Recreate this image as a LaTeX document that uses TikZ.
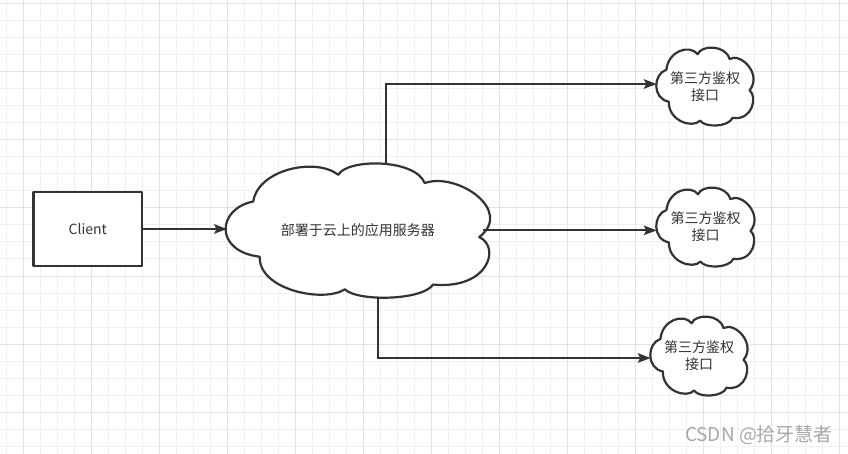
\documentclass[tikz,border=0pt]{standalone}
\usepackage{fontspec}
\setmainfont{Noto Sans CJK SC}
\usetikzlibrary{arrows.meta}
\definecolor{ink}{HTML}{333333}
\definecolor{gridminor}{HTML}{F0F0F0}
\definecolor{gridmajor}{HTML}{E2E2E2}
\definecolor{wm}{HTML}{A8A8A8}
\pgfdeclarelayer{gridlayer}
\pgfdeclarelayer{background}
\pgfsetlayers{gridlayer,background,main}
\newcommand\cloudoutline[3]{%
  \begin{scope}[shift={(#1.north west)}, x=#2pt, y=-#3pt]
    \draw[shapeline]
      (0.10,0.284) .. controls (0.12,0.04) and (0.34,-0.05) .. (0.426,0.083)
      .. controls (0.46,-0.04) and (0.72,-0.04) .. (0.757,0.145)
      .. controls (0.88,0.06) and (1.1,0.35) .. (0.966,0.552)
      .. controls (1.05,0.63) and (1.0,0.95) .. (0.789,0.91)
      .. controls (0.75,1.03) and (0.5,1.04) .. (0.451,0.946)
      .. controls (0.37,1.05) and (0.12,0.95) .. (0.125,0.70)
      .. controls (-0.05,0.66) and (-0.04,0.34) .. cycle;
  \end{scope}}
\begin{document}
\begin{tikzpicture}[x=1pt,y=1pt,
  shapeline/.style={draw=ink, line width=2.2pt, fill=white, line join=round},
  conn/.style={draw=ink, line width=2pt, -{Stealth[length=13pt,width=9.5pt,inset=2.5pt]}},
  lbl/.style={text=ink, font=\fontsize{14}{17}\selectfont, align=center},
  cloudbox/.style 2 args={lbl, inner sep=0pt, minimum width=#1pt, minimum height=#2pt},
  gminor/.style={draw=gridminor, line width=1pt},
  gmajor/.style={draw=gridmajor, line width=1pt},
  wmark/.style={text=wm, font=\fontsize{19}{21}\selectfont}]
\useasboundingbox (0,0) rectangle (848,-454);
\begin{pgfonlayer}{gridlayer}
  \fill[white] (0,0) rectangle (848,-454);
  \foreach \i in {0,...,49} \draw[gminor] ({6.3+17*\i},0) -- ++(0,-454);
  \foreach \j in {0,...,26} \draw[gminor] (0,{-4-17*\j}) -- ++(848,0);
  \foreach \i in {0,...,12} \draw[gmajor] ({23.3+68*\i},0) -- ++(0,-454);
  \foreach \j in {0,...,6} \draw[gmajor] (0,{-4-68*\j}) -- ++(848,0);
\end{pgfonlayer}

\node[shapeline, lbl, inner sep=0pt, minimum width=108.8pt, minimum height=74.4pt] (client) at (87.8,-229) {Client};

\node[cloudbox={261}{132.7}] (srv) at (357.8,-230.35) {部署于云上的应用服务器};
\node[cloudbox={96}{77}] (auth1) at (705,-86.5) {第三方鉴权\\接口};
\node[cloudbox={97}{78}] (auth2) at (705.5,-227) {第三方鉴权\\接口};
\node[cloudbox={96}{78}] (auth3) at (699,-356) {第三方鉴权\\接口};

\begin{pgfonlayer}{background}
  \cloudoutline{srv}{261}{132.7}
  \cloudoutline{auth1}{96}{77}
  \cloudoutline{auth2}{97}{78}
  \cloudoutline{auth3}{96}{78}
\end{pgfonlayer}

\draw[conn] (client.east) -- (client.east -| srv.west);
\draw[conn] ([xshift=28.5pt]srv.north) |- ([yshift=2.5pt]auth1.west);
\draw[conn] ([xshift=-6pt]srv.east) -- (srv.east -| auth2.west);
\draw[conn] ([xshift=20.2pt]srv.south) |- ([yshift=-2pt]auth3.west);

\node[wmark] (wmtext) at (759,-435) {CSDN @拾牙慧者};
\end{tikzpicture}
\end{document}
